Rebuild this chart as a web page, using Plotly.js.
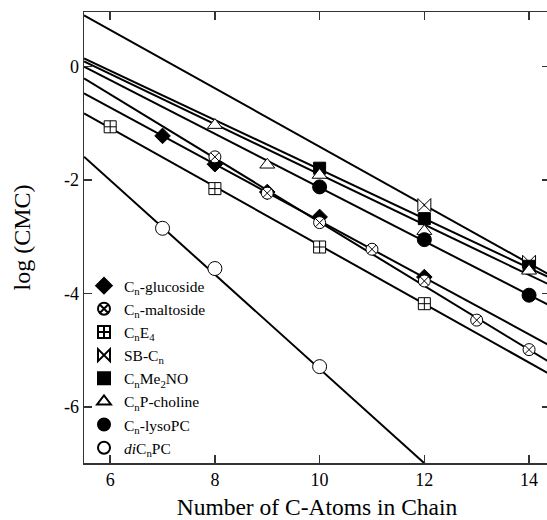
<!DOCTYPE html>
<html>
<head>
<meta charset="utf-8">
<script src="https://cdn.plot.ly/plotly-3.0.1.min.js"></script>
<style>
html,body{margin:0;padding:0;overflow:hidden;background:#fff;}
#chart{width:560px;height:520px;}
</style>
</head>
<body>
<div id="chart"></div>
<script>
// ---- data ----
const seriesNames = [
  'C<sub>n</sub>-glucoside',
  'C<sub>n</sub>-maltoside',
  'C<sub>n</sub>E<sub>4</sub>',
  'SB-C<sub>n</sub>',
  'C<sub>n</sub>Me<sub>2</sub>NO',
  'C<sub>n</sub>P-choline',
  'C<sub>n</sub>-lysoPC',
  '<i>di</i>C<sub>n</sub>PC'
];
const glucosideX = [7, 8, 9, 10, 12];
const glucosideY = [-1.22, -1.72, -2.21, -2.65, -3.71];
const maltosideX = [8, 9, 10, 11, 12, 13, 14];
const maltosideY = [-1.59, -2.23, -2.75, -3.22, -3.78, -4.47, -4.99];
const e4X = [6, 8, 10, 12];
const e4Y = [-1.06, -2.15, -3.18, -4.18];
const sbX = [12, 14];
const sbY = [-2.44, -3.44];
const me2noX = [10, 12, 14];
const me2noY = [-1.79, -2.68, -3.52];
const pcholineX = [8, 9, 10, 12, 14];
const pcholineY = [-1.03, -1.73, -1.91, -2.90, -3.60];
const lysoX = [10, 12, 14];
const lysoY = [-2.12, -3.05, -4.03];
const diX = [7, 8, 10];
const diY = [-2.85, -3.56, -5.29];

// fitted lines: log(CMC) = intercept + slope * n
const fitIntercept = [2.28, 2.89, 2.02, 3.74, 2.54, 2.53, 2.61, 2.99];
const fitSlope     = [-0.500, -0.563, -0.517, -0.515, -0.435, -0.443, -0.474, -0.832];

const xTickVals = [6, 8, 10, 12, 14];
const yTickVals = [0, -2, -4, -6];
const yTickText = ['0', '-2', '-4', '-6'];
const xRange = [5.5, 14.4];
const yRange = [-6.99, 0.965];

// ---- styles ----
const xs = [glucosideX, maltosideX, e4X, sbX, me2noX, pcholineX, lysoX, diX];
const ys = [glucosideY, maltosideY, e4Y, sbY, me2noY, pcholineY, lysoY, diY];
const symbols = ['diamond', 'circle-x', 'square-cross', 'bowtie', 'square', 'triangle-up', 'circle', 'circle'];
const fills = ['black', 'white', 'white', 'white', 'black', 'white', 'black', 'white'];
const sizes = [12, 12, 12, 13, 12, 13, 14, 14];

const font = 'Liberation Serif';
const traces = [];
// lines
for (let i = 0; i < seriesNames.length; i++) {
  traces.push({
    x: xRange.slice(),
    y: xRange.map(v => fitIntercept[i] + fitSlope[i] * v),
    mode: 'lines',
    line: {color: 'black', width: 2},
    showlegend: false,
    hoverinfo: 'skip'
  });
}
// markers
for (let i = 0; i < seriesNames.length; i++) {
  traces.push({
    x: xs[i],
    y: ys[i],
    name: seriesNames[i],
    mode: 'markers',
    marker: {symbol: symbols[i], size: sizes[i], color: fills[i], line: {color: 'black', width: 1}},
    cliponaxis: false
  });
}

const axisCommon = {
  showgrid: false,
  zeroline: false,
  showline: true,
  linecolor: '#333',
  linewidth: 1.5,
  mirror: 'ticks',
  ticks: 'inside',
  ticklen: 8,
  tickwidth: 1.5,
  tickcolor: '#333',
  tickfont: {family: font, size: 18, color: 'black'}
};

const layout = {
  width: 560,
  height: 520,
  margin: {l: 84, r: 10, t: 12, b: 57},
  paper_bgcolor: 'white',
  plot_bgcolor: 'white',
  font: {family: font, color: 'black'},
  xaxis: Object.assign({}, axisCommon, {
    range: xRange,
    tickvals: xTickVals,
    title: {text: 'Number of C-Atoms in Chain', font: {family: font, size: 23.5, color: 'black'}, standoff: 15}
  }),
  yaxis: Object.assign({}, axisCommon, {
    range: yRange,
    tickvals: yTickVals,
    ticktext: yTickText,
    title: {text: 'log (CMC)', font: {family: font, size: 24, color: 'black'}, standoff: 26}
  }),
  legend: {
    x: 0, y: 0.43, xanchor: 'left', yanchor: 'top',
    bgcolor: 'rgba(0,0,0,0)', borderwidth: 0,
    font: {family: font, size: 15.5, color: 'black'},
    itemsizing: 'constant',
    tracegroupgap: 0
  },
  showlegend: true
};

Plotly.newPlot('chart', traces, layout, {displayModeBar: false, staticPlot: true});
</script>
</body>
</html>
